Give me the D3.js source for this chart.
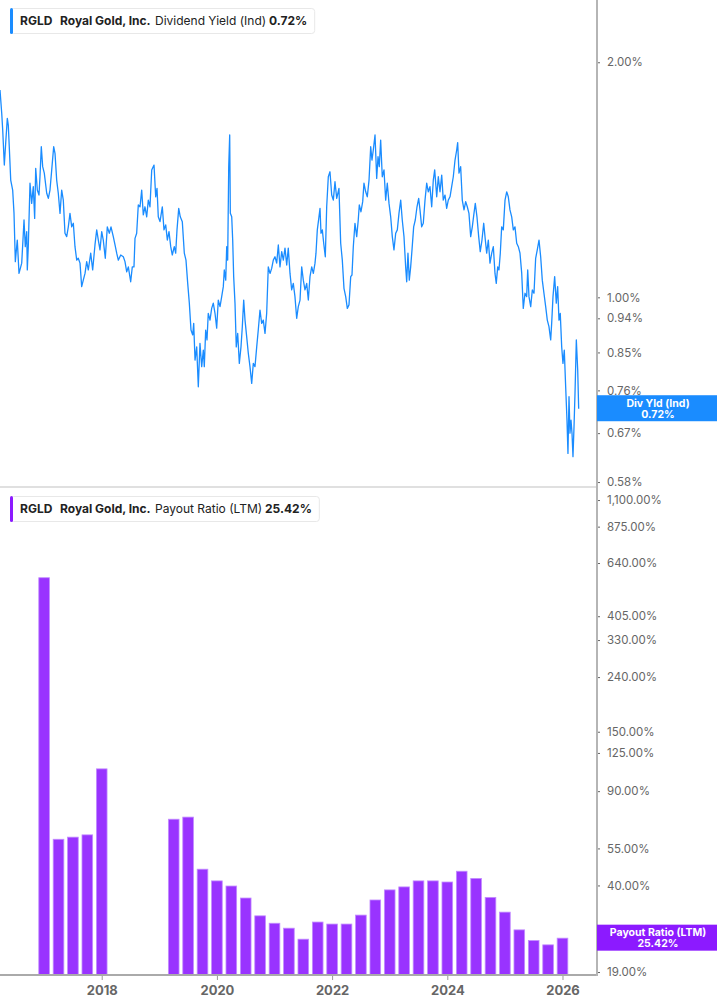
<!DOCTYPE html>
<html>
<head>
<meta charset="utf-8">
<script src="https://cdn.jsdelivr.net/npm/d3@7"></script>
<style>
  html, body { margin: 0; padding: 0; background: #fff; }
  svg { display: block; font-family: Inter, "Noto Sans", sans-serif; }
</style>
</head>
<body>
<div id="chart"></div>
<script>
// Dividend yield (Ind), % -- [decimal year, value]
const yieldSeries = [
  [2016.234,1.843],[2016.264,1.720],[2016.281,1.638],[2016.309,1.477],[2016.333,1.576],[2016.361,1.695],[2016.378,1.662],[2016.395,1.559],[2016.420,1.413],[2016.454,1.372],[2016.477,1.282],[2016.500,1.111],[2016.534,1.184],[2016.564,1.073],[2016.611,1.106],[2016.639,1.208],[2016.651,1.256],[2016.673,1.161],[2016.698,1.214],[2016.708,1.084],[2016.725,1.161],[2016.755,1.400],[2016.784,1.319],[2016.812,1.386],[2016.836,1.262],[2016.854,1.463],[2016.882,1.372],[2016.911,1.352],[2016.928,1.427],[2016.951,1.559],[2016.975,1.470],
  [2017.003,1.442],[2017.045,1.359],[2017.073,1.339],[2017.102,1.372],[2017.132,1.456],[2017.166,1.559],[2017.189,1.529],[2017.218,1.413],[2017.246,1.359],[2017.276,1.281],[2017.305,1.372],[2017.333,1.332],[2017.362,1.208],[2017.392,1.196],[2017.420,1.231],[2017.449,1.281],[2017.479,1.231],[2017.507,1.244],[2017.536,1.161],[2017.566,1.116],[2017.593,1.122],[2017.623,1.106],[2017.652,1.032],[2017.680,1.052],[2017.710,1.073],[2017.739,1.111],[2017.767,1.084],[2017.809,1.139],[2017.843,1.084],[2017.883,1.167],[2017.913,1.220],[2017.941,1.184],[2017.970,1.150],
  [2018.000,1.214],[2018.027,1.184],[2018.062,1.122],[2018.097,1.231],[2018.132,1.208],[2018.161,1.231],[2018.201,1.196],[2018.231,1.167],[2018.260,1.139],[2018.288,1.116],[2018.330,1.133],[2018.375,1.127],[2018.404,1.111],[2018.434,1.078],[2018.462,1.094],[2018.503,1.047],[2018.531,1.094],[2018.560,1.094],[2018.578,1.190],[2018.607,1.208],[2018.635,1.313],[2018.665,1.306],[2018.694,1.372],[2018.722,1.275],[2018.751,1.306],[2018.781,1.268],[2018.809,1.332],[2018.838,1.306],[2018.868,1.456],[2018.908,1.477],[2018.937,1.345],[2018.960,1.379],[2018.982,1.268],
  [2019.012,1.250],[2019.052,1.306],[2019.081,1.220],[2019.111,1.238],[2019.139,1.184],[2019.168,1.214],[2019.198,1.161],[2019.225,1.133],[2019.260,1.161],[2019.284,1.139],[2019.307,1.220],[2019.337,1.300],[2019.364,1.268],[2019.399,1.250],[2019.434,1.139],[2019.463,1.116],[2019.493,1.042],[2019.521,0.983],[2019.550,0.908],[2019.580,0.895],[2019.597,0.926],[2019.620,0.831],[2019.649,0.864],[2019.677,0.768],[2019.706,0.873],[2019.736,0.815],[2019.764,0.856],[2019.781,0.815],[2019.805,0.908],[2019.828,0.882],[2019.850,0.954],[2019.880,0.935],[2019.909,0.968],[2019.937,0.983],[2019.967,0.954],[2019.996,0.913],
  [2020.024,0.992],[2020.054,0.973],[2020.083,1.002],[2020.111,1.032],[2020.128,1.084],[2020.153,1.052],[2020.170,1.161],[2020.187,1.116],[2020.205,1.470],[2020.222,1.614],[2020.233,1.281],[2020.257,1.268],[2020.274,1.184],[2020.291,1.063],[2020.314,0.983],[2020.336,0.864],[2020.361,0.899],[2020.389,0.823],[2020.418,0.864],[2020.441,0.917],[2020.465,0.992],[2020.488,0.935],[2020.517,0.890],[2020.545,0.848],[2020.574,0.815],[2020.604,0.776],[2020.632,0.823],[2020.661,0.815],[2020.691,0.864],[2020.718,0.908],[2020.748,0.963],[2020.777,0.926],[2020.805,0.935],[2020.835,0.899],[2020.864,0.954],[2020.892,1.094],[2020.922,1.073],[2020.951,1.089],[2020.979,1.116],
  [2021.008,1.127],[2021.038,1.106],[2021.066,1.167],[2021.095,1.094],[2021.125,1.144],[2021.153,1.116],[2021.182,1.156],[2021.212,1.100],[2021.239,1.156],[2021.269,1.073],[2021.298,1.022],[2021.326,1.042],[2021.355,1.002],[2021.385,0.940],[2021.413,0.973],[2021.443,0.992],[2021.472,1.094],[2021.500,1.052],[2021.529,1.022],[2021.559,1.042],[2021.587,0.992],[2021.616,1.063],[2021.646,1.094],[2021.674,1.073],[2021.703,1.106],[2021.720,1.139],[2021.743,1.220],[2021.772,1.268],[2021.790,1.300],[2021.807,1.208],[2021.830,1.220],[2021.854,1.173],[2021.882,1.127],[2021.906,1.306],[2021.934,1.427],[2021.963,1.448],[2021.993,1.352],
  [2022.021,1.332],[2022.050,1.406],[2022.080,1.339],[2022.119,1.379],[2022.149,1.173],[2022.177,1.116],[2022.206,1.027],[2022.236,1.002],[2022.264,0.968],[2022.293,0.978],[2022.323,1.063],[2022.345,1.068],[2022.368,1.161],[2022.397,1.244],[2022.427,1.196],[2022.454,1.256],[2022.472,1.313],[2022.501,1.287],[2022.531,1.326],[2022.553,1.400],[2022.583,1.365],[2022.611,1.345],[2022.641,1.413],[2022.670,1.559],[2022.692,1.499],[2022.715,1.544],[2022.745,1.614],[2022.774,1.420],[2022.797,1.514],[2022.819,1.470],[2022.843,1.590],[2022.871,1.427],[2022.901,1.456],[2022.930,1.332],[2022.958,1.400],[2022.988,1.319],
  [2023.017,1.268],[2023.045,1.196],[2023.074,1.150],[2023.104,1.208],[2023.132,1.220],[2023.161,1.281],[2023.191,1.332],[2023.218,1.256],[2023.248,1.196],[2023.277,1.094],[2023.295,1.047],[2023.317,1.139],[2023.340,1.052],[2023.364,1.094],[2023.387,1.150],[2023.416,1.231],[2023.444,1.256],[2023.474,1.306],[2023.503,1.339],[2023.526,1.294],[2023.555,1.231],[2023.583,1.244],[2023.613,1.332],[2023.642,1.400],[2023.670,1.365],[2023.699,1.386],[2023.729,1.306],[2023.757,1.413],[2023.781,1.456],[2023.816,1.345],[2023.844,1.427],[2023.873,1.365],[2023.903,1.434],[2023.930,1.332],[2023.960,1.352],[2023.989,1.300],
  [2024.017,1.332],[2024.047,1.345],[2024.076,1.386],[2024.104,1.427],[2024.134,1.499],[2024.163,1.544],[2024.180,1.578],[2024.203,1.442],[2024.232,1.470],[2024.260,1.332],[2024.290,1.294],[2024.319,1.326],[2024.347,1.306],[2024.376,1.281],[2024.406,1.196],[2024.434,1.231],[2024.463,1.281],[2024.486,1.319],[2024.515,1.268],[2024.545,1.196],[2024.572,1.144],[2024.602,1.184],[2024.632,1.244],[2024.660,1.184],[2024.684,1.139],[2024.712,1.184],[2024.741,1.106],[2024.771,1.139],[2024.799,1.161],[2024.828,1.073],[2024.850,1.042],[2024.875,1.094],[2024.897,1.084],[2024.920,1.139],[2024.944,1.231],[2024.972,1.220],
  [2025.002,1.332],[2025.031,1.365],[2025.059,1.345],[2025.088,1.294],[2025.118,1.268],[2025.146,1.220],[2025.175,1.231],[2025.205,1.173],[2025.233,1.161],[2025.262,1.139],[2025.292,1.073],[2025.319,0.968],[2025.349,1.012],[2025.378,1.002],[2025.396,1.084],[2025.418,1.002],[2025.448,0.973],[2025.476,1.022],[2025.505,1.012],[2025.534,1.122],[2025.562,1.150],[2025.592,1.184],[2025.621,1.127],[2025.649,1.052],[2025.678,1.012],[2025.708,0.973],[2025.736,0.935],[2025.765,0.917],[2025.795,0.882],[2025.812,0.926],[2025.835,1.002],[2025.864,1.063],[2025.892,0.983],[2025.916,1.032],[2025.939,0.935],[2025.961,0.954],[2025.986,0.864],
  [2026.008,0.823],[2026.031,0.856],[2026.055,0.768],[2026.078,0.696],[2026.095,0.631],[2026.113,0.746],[2026.130,0.670],[2026.148,0.696],[2026.165,0.670],[2026.182,0.625],[2026.200,0.683],[2026.217,0.753],[2026.240,0.882],[2026.264,0.807],[2026.281,0.720]
];

// Payout ratio (LTM), quarterly bars
const payoutQuarters = [2017.0, 2017.25, 2017.5, 2017.75, 2018.0,
  2019.25, 2019.5, 2019.75, 2020.0, 2020.25, 2020.5, 2020.75, 2021.0, 2021.25, 2021.5, 2021.75,
  2022.0, 2022.25, 2022.5, 2022.75, 2023.0, 2023.25, 2023.5, 2023.75, 2024.0, 2024.25, 2024.5,
  2024.75, 2025.0, 2025.25, 2025.5, 2025.75, 2026.0];
const payoutValues = [564, 59.5, 60.6, 61.8, 109,
  70.7, 72.0, 46.0, 41.6, 39.8, 35.9, 30.8, 28.9, 27.7, 25.2, 29.2,
  28.7, 28.7, 31.0, 35.3, 38.5, 39.5, 41.6, 41.6, 41.2, 45.2, 42.5,
  36.1, 31.8, 27.3, 24.9, 24.0, 25.42];

// axis ticks
const yearTicks = [2018, 2020, 2022, 2024, 2026];
const yieldTicks = [0.58, 0.67, 0.76, 0.85, 0.94, 1.00, 2.00];
const payoutTicks = [19, 25, 40, 55, 90, 125, 150, 240, 330, 405, 640, 875, 1100];

const lastYield = 0.72;
const lastPayout = 25.42;

const Chart = {
  W: 717,
  H: 1005,
  plotRight: 597,
  topPanel: { y0: 0, y1: 487 },
  botPanel: { y0: 487, y1: 975 },
  BLUE: '#1a8cff',
  PURPLE: '#9933ff',

  render(containerId) {
    const svg = d3.select(`#${containerId}`).append('svg')
      .attr('width', this.W)
      .attr('height', this.H);

    this.x = d3.scaleLinear()
      .domain([2016.234, 2026.599])
      .range([0, this.plotRight]);

    this.yTop = d3.scaleLog()
      .domain([0.5716, 2.403])
      .range([this.topPanel.y1, this.topPanel.y0]);

    this.yBot = d3.scaleLog()
      .domain([18.52, 1230.5])
      .range([this.botPanel.y1, this.botPanel.y0]);

    this.drawYield(svg);
    this.drawPayout(svg);
    this.drawFrame(svg);
    this.drawLegend(svg, 10, 8, this.BLUE, 'Dividend Yield (Ind)', '0.72%', 269);
    this.drawLegend(svg, 10, 496, '#8c1aff', 'Payout Ratio (LTM)', '25.42%', 265);
    this.drawBadge(svg, this.yTop(lastYield), this.BLUE, 'Div Yld (Ind)', d3.format('.2f')(lastYield) + '%');
    this.drawBadge(svg, this.yBot(lastPayout), '#8c1aff', 'Payout Ratio (LTM)', d3.format('.2f')(lastPayout) + '%');
  },

  drawYield(svg) {
    svg.append('clipPath').attr('id', 'clip-top')
      .append('rect')
      .attr('x', 0).attr('y', this.topPanel.y0)
      .attr('width', this.plotRight).attr('height', this.topPanel.y1 - this.topPanel.y0);

    const line = d3.line()
      .x(d => this.x(d[0]))
      .y(d => this.yTop(d[1]));

    svg.append('path')
      .datum(yieldSeries)
      .attr('clip-path', 'url(#clip-top)')
      .attr('d', line)
      .attr('fill', 'none')
      .attr('stroke', this.BLUE)
      .attr('stroke-width', 1.3)
      .attr('stroke-linejoin', 'round');

    const axis = d3.axisRight(this.yTop)
      .tickValues(yieldTicks)
      .tickFormat(d => d3.format('.2f')(d) + '%')
      .tickSize(3)
      .tickPadding(7);
    this.styleAxis(svg.append('g')
      .attr('transform', `translate(${this.plotRight},0)`)
      .call(axis));
  },

  drawPayout(svg) {
    const step = this.x(2017.25) - this.x(2017.0);
    const bw = step * 0.74;
    const base = this.botPanel.y1;
    const bars = payoutQuarters.map((q, i) => ({ q, v: payoutValues[i] }));

    svg.append('g')
      .selectAll('rect')
      .data(bars)
      .join('rect')
      .attr('x', d => this.x(d.q) - bw / 2)
      .attr('y', d => this.yBot(d.v))
      .attr('width', bw)
      .attr('height', d => base - this.yBot(d.v))
      .attr('fill', this.PURPLE)
      .attr('stroke', '#c28cff')
      .attr('stroke-width', 0.8);

    const axis = d3.axisRight(this.yBot)
      .tickValues(payoutTicks)
      .tickFormat(d => d3.format(',.2f')(d) + '%')
      .tickSize(3)
      .tickPadding(7);
    this.styleAxis(svg.append('g')
      .attr('transform', `translate(${this.plotRight},0)`)
      .call(axis));

    // years along the bottom
    const xAxis = d3.axisBottom(this.x)
      .tickValues(yearTicks)
      .tickFormat(d3.format('d'))
      .tickSize(5)
      .tickPadding(6);
    const gx = svg.append('g')
      .attr('transform', `translate(0,${base})`)
      .call(xAxis);
    gx.select('.domain').remove();
    gx.selectAll('line').attr('stroke', '#999');
    gx.selectAll('text')
      .attr('fill', '#666')
      .attr('font-size', 13)
      .attr('font-weight', 700)
      .attr('font-family', 'Inter, "Noto Sans", sans-serif');
  },

  styleAxis(g) {
    g.select('.domain').remove();
    g.selectAll('line').attr('stroke', '#666');
    g.selectAll('text')
      .attr('fill', '#666')
      .attr('font-size', 11.5)
      .attr('font-family', 'Inter, "Noto Sans", sans-serif');
  },

  drawFrame(svg) {
    // panel divider, baseline and the shared right axis
    svg.append('line')
      .attr('x1', 0).attr('x2', this.plotRight)
      .attr('y1', this.topPanel.y1).attr('y2', this.topPanel.y1)
      .attr('stroke', '#e0e0e0').attr('stroke-width', 2);
    svg.append('line')
      .attr('x1', 0).attr('x2', this.plotRight)
      .attr('y1', this.botPanel.y1).attr('y2', this.botPanel.y1)
      .attr('stroke', '#aaa').attr('stroke-width', 2);
    svg.append('line')
      .attr('x1', this.plotRight).attr('x2', this.plotRight)
      .attr('y1', 0).attr('y2', this.botPanel.y1 + 1)
      .attr('stroke', '#b5b5b5').attr('stroke-width', 2);
  },

  drawLegend(svg, x, y, color, metric, value, valueX) {
    const g = svg.append('g').attr('transform', `translate(${x},${y})`);
    const box = g.append('rect')
      .attr('x', 0.5).attr('y', 0.5)
      .attr('height', 25)
      .attr('rx', 3)
      .attr('fill', '#fff')
      .attr('stroke', '#e8e8e8');
    g.append('rect')
      .attr('x', 0).attr('y', 0)
      .attr('width', 3).attr('height', 26)
      .attr('rx', 1.5)
      .attr('fill', color);

    const t = g.append('text')
      .attr('y', 17)
      .attr('font-size', 12)
      .attr('fill', '#222');
    t.append('tspan').attr('x', 10).attr('font-weight', 700).text('RGLD');
    t.append('tspan').attr('x', 50).attr('font-weight', 700).text('Royal Gold, Inc.');
    t.append('tspan').attr('x', 145).attr('font-weight', 400).text(metric);
    const v = t.append('tspan').attr('x', valueX - x).attr('font-weight', 700).text(value);

    const end = valueX - x + v.node().getComputedTextLength();
    box.attr('width', end + 7);
  },

  drawBadge(svg, yMid, color, label, value) {
    const g = svg.append('g').attr('transform', `translate(${this.plotRight},${yMid - 13.5})`);
    g.append('rect')
      .attr('width', this.W - this.plotRight)
      .attr('height', 26)
      .attr('fill', color);
    const t = g.append('text')
      .attr('text-anchor', 'middle')
      .attr('fill', '#fff')
      .attr('font-size', 10.5)
      .attr('font-weight', 700);
    t.append('tspan').attr('x', 61).attr('y', 11.5).text(label);
    t.append('tspan').attr('x', 61).attr('y', 22.5).text(value);
  }
};

Chart.render('chart');
</script>
</body>
</html>
